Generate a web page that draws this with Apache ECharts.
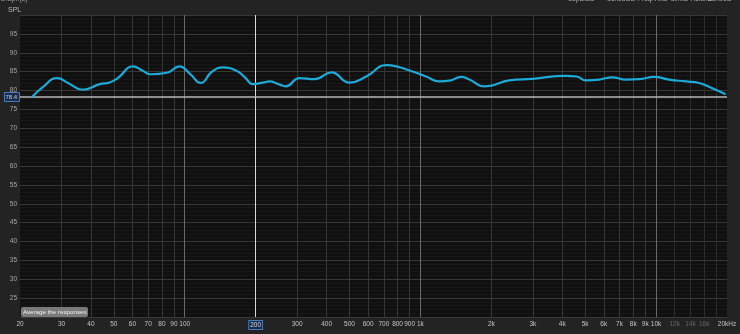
<!DOCTYPE html>
<html>
<head>
<meta charset="utf-8">
<script src="https://cdn.jsdelivr.net/npm/echarts@6/dist/echarts.min.js"></script>
<style>html,body{margin:0;padding:0;background:#232323;}#c{width:740px;height:334px;}</style>
</head>
<body>
<div id="c"></div>
<script>
// Frequency response data (Hz, dB SPL)
const freqs = [22.5, 25, 28.8, 32, 36.9, 43.6, 48, 52, 60.4, 66, 72, 84, 95, 105, 117, 130, 145, 165, 180, 195, 215, 229, 250, 268, 307, 356, 419, 500, 589, 716, 790, 900, 990, 1057, 1205, 1330, 1489, 1614, 1867, 2000, 2383, 2990, 4142, 4600, 5037, 5736, 6532, 7447, 8482, 9818, 11360, 13370, 15215, 17330, 19730];
const spl = [78.3, 80.9, 83.3, 82.0, 80.2, 81.7, 82.1, 83.3, 86.4, 85.3, 84.3, 84.7, 86.4, 84.5, 82.0, 84.9, 86.1, 85.3, 83.5, 81.7, 82.1, 82.4, 81.7, 81.1, 83.3, 83.0, 84.8, 82.1, 83.7, 86.7, 86.4, 85.3, 84.4, 83.7, 82.4, 82.6, 83.6, 82.9, 81.1, 81.3, 82.7, 83.1, 83.9, 83.7, 82.7, 82.9, 83.5, 82.9, 83.0, 83.6, 82.9, 82.4, 82.0, 80.6, 79.0];
// Tick positions and labels
const xTickVals = [20, 30, 40, 50, 60, 70, 80, 90, 100, 200, 300, 400, 500, 600, 700, 800, 900, 1000, 2000, 3000, 4000, 5000, 6000, 7000, 8000, 9000, 10000, 12000, 14000, 16000, 20000];
const xTickLabels = ['20', '30', '40', '50', '60', '70', '80', '90', '100', '200', '300', '400', '500', '600', '700', '800', '900', '1k', '2k', '3k', '4k', '5k', '6k', '7k', '8k', '9k', '10k', '12k', '14k', '16k', '20kHz'];
const gridFreqs = [30, 40, 50, 60, 70, 80, 90, 300, 400, 500, 600, 700, 800, 900, 2000, 3000, 4000, 5000, 6000, 7000, 8000, 9000];
const decadeFreqs = [100, 1000, 10000];
const highFreqs = [12000, 14000, 16000, 18000];
const cursorFreq = 200;
const cursorLevel = 78.4;
const yLabels = [25, 30, 35, 40, 45, 50, 55, 60, 65, 70, 75, 80, 85, 90, 95];
const menuItems = ['Scheduler', 'Freq. Axis', 'Limits', 'Actions', 'Controls'];

const FONT = 'Liberation Sans';
const chart = echarts.init(document.getElementById('c'), null, {renderer: 'canvas'});
const seriesData = freqs.map((f, i) => [f, spl[i]]);

const gridLines = [];
gridFreqs.forEach(f => gridLines.push({xAxis: f, lineStyle: {color: '#363636', width: 1, type: 'solid'}}));
decadeFreqs.forEach(f => gridLines.push({xAxis: f, lineStyle: {color: '#6a6a6a', width: 1, type: 'solid'}}));
highFreqs.forEach(f => gridLines.push({xAxis: f, lineStyle: {color: '#2c2c2c', width: 1, type: 'solid'}}));
gridLines.push({xAxis: cursorFreq, lineStyle: {color: '#d8d8d8', width: 1, type: 'solid'}});
gridLines.push({yAxis: cursorLevel, lineStyle: {color: '#b8b8b8', width: 1.5, type: 'solid'}});

const menuX = [607, 638, 671, 691, 707];
const menuGraphics = menuItems.map((m, i) => ({type: 'text', left: menuX[i], top: -4, style: {text: m, fill: '#b0b0b0', fontSize: 6.5, fontFamily: FONT}}));

chart.setOption({
  backgroundColor: '#232323',
  animation: false,
  grid: {left: 20, right: 13, top: 15, bottom: 17, show: true, backgroundColor: '#101010', borderWidth: 0},
  xAxis: {
    type: 'log', logBase: 10, min: 20, max: 20000,
    axisLine: {show: false}, axisTick: {show: false}, splitLine: {show: false},
    axisLabel: {
      customValues: xTickVals,
      fontSize: 6.5, color: '#c4c4c4', margin: 4, fontFamily: FONT, hideOverlap: false,
      formatter: function (v) {
        let idx = -1, best = Infinity;
        xTickVals.forEach((t, i) => { const d = Math.abs(Math.log(t) - Math.log(v)); if (d < best) { best = d; idx = i; } });
        const t = xTickLabels[idx];
        if (xTickVals[idx] === cursorFreq) return '{cur|' + t + '}';
        if (xTickVals[idx] > 10000 && xTickVals[idx] < 20000) return '{dim|' + t + '}';
        return t;
      },
      rich: {
        cur: {color: '#d0d8e8', backgroundColor: '#1b2c4a', borderColor: '#4a78b8', borderWidth: 1, padding: [1, 1, 0, 1], fontSize: 6.5, fontFamily: FONT},
        dim: {color: '#666666', fontSize: 6.5, fontFamily: FONT}
      }
    }
  },
  yAxis: {
    type: 'value', min: 20, max: 100, interval: 5,
    axisLine: {show: false}, axisTick: {show: false},
    splitLine: {show: true, lineStyle: {color: '#383838', width: 1}},
    minorTick: {show: false, splitNumber: 5},
    minorSplitLine: {show: true, lineStyle: {color: '#181818', width: 1}},
    axisLabel: {
      fontSize: 6.5, color: '#a8a8a8', margin: 3, fontFamily: FONT,
      formatter: function (v) { return yLabels.indexOf(v) >= 0 ? String(v) : ''; }
    }
  },
  series: [{
    type: 'line', data: seriesData, smooth: 0.5, showSymbol: false,
    lineStyle: {color: '#1ea9d6', width: 2.2}, z: 5,
    markLine: {silent: true, symbol: 'none', label: {show: false}, data: gridLines, z: 1, animation: false}
  }],
  graphic: [
    {type: 'text', left: 0, top: -4, style: {text: 'Graph(s)', fill: '#9a9a9a', fontSize: 7, fontFamily: FONT}},
    {type: 'text', left: 568, top: -4, style: {text: 'Separate', fill: '#b0b0b0', fontSize: 6.5, fontFamily: FONT}},
    ...menuGraphics,
    {type: 'text', left: 8, top: 7, style: {text: 'SPL', fill: '#b8b8b8', fontSize: 7, fontFamily: FONT}},
    {type: 'rect', left: 4, top: 92, shape: {width: 15, height: 9}, style: {fill: '#1b2c4a', stroke: '#4a78b8', lineWidth: 1}, z: 10},
    {type: 'text', left: 5.5, top: 94, style: {text: String(cursorLevel), fill: '#c8d2e4', fontSize: 6, fontFamily: FONT}, z: 11},
    {type: 'rect', left: 21, top: 307, shape: {width: 67, height: 10, r: 2}, style: {fill: '#7a7a7a'}, z: 10},
    {type: 'text', left: 23, top: 309, style: {text: 'Average the responses', fill: '#eeeeee', fontSize: 6.2, fontFamily: FONT}, z: 11}
  ]
});
</script>
</body>
</html>
